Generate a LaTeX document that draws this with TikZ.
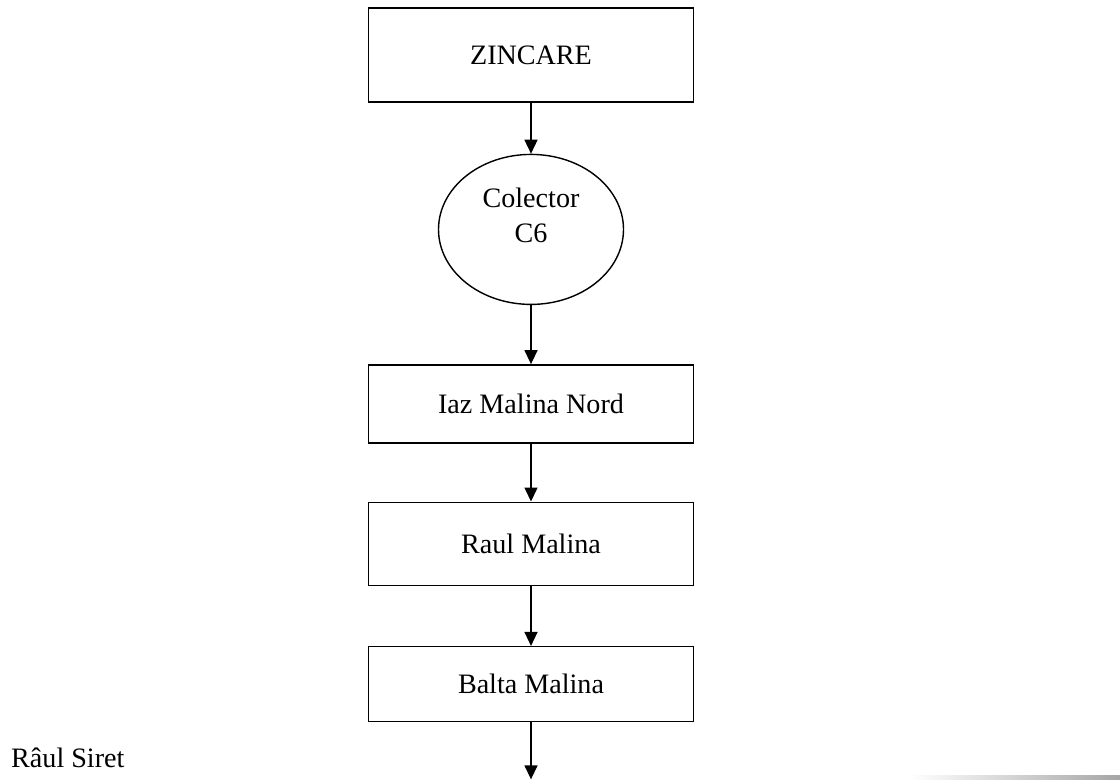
\documentclass[tikz,border=0pt]{standalone}
\usepackage{fontspec}
\setmainfont{Liberation Serif}
\usepackage{tikz}
\usetikzlibrary{arrows.meta,positioning,shapes.geometric}

\begin{document}
\begin{tikzpicture}[
    node distance=1.2cm,
    box/.style={rectangle, draw, line width=0.8pt, minimum width=6.5cm, font=\fontsize{16}{20}\selectfont, align=center},
    arrow/.style={-{Triangle[length=0.28cm,width=0.26cm]}, line width=0.8pt}
]
    \useasboundingbox (0,0) rectangle (22.4,-15.58);

    % Zincare
    \node[box, minimum height=1.88cm] (zincare) at (10.62,-1.1) {ZINCARE};

    % Colector
    \node[ellipse, draw, line width=0.8pt, inner sep=0pt, minimum width=3.7cm, minimum height=3.0cm, below=1.02cm of zincare,
        label={[font=\fontsize{16}{20}\selectfont, align=center, yshift=0.28cm]center:Colector\\C6}] (colector) {};

    % Iaz
    \node[box, minimum height=1.56cm, below=1.18cm of colector] (iaz) {Iaz Malina Nord};

    % Raul
    \node[box, minimum height=1.66cm, below=1.16cm of iaz] (raul) {Raul Malina};

    % Balta
    \node[box, minimum height=1.5cm, below=1.2cm of raul] (balta) {Balta Malina};
    \coordinate[below=1.14cm of balta] (iesire);

    % Arrows
    \draw[arrow] (zincare) -- (colector);
    \draw[arrow] (colector) -- (iaz);
    \draw[arrow] (iaz) -- (raul);
    \draw[arrow] (raul) -- (balta);
    \draw[arrow] (balta) -- (iesire);

    % Label
    \node[font=\fontsize{16}{20}\selectfont, anchor=west] (siret) at (0.1,-15.16) {Râul Siret};
    \shade[left color=white, right color=gray!70] (18.2,-15.58) rectangle (22.4,-15.5);
\end{tikzpicture}
\end{document}
